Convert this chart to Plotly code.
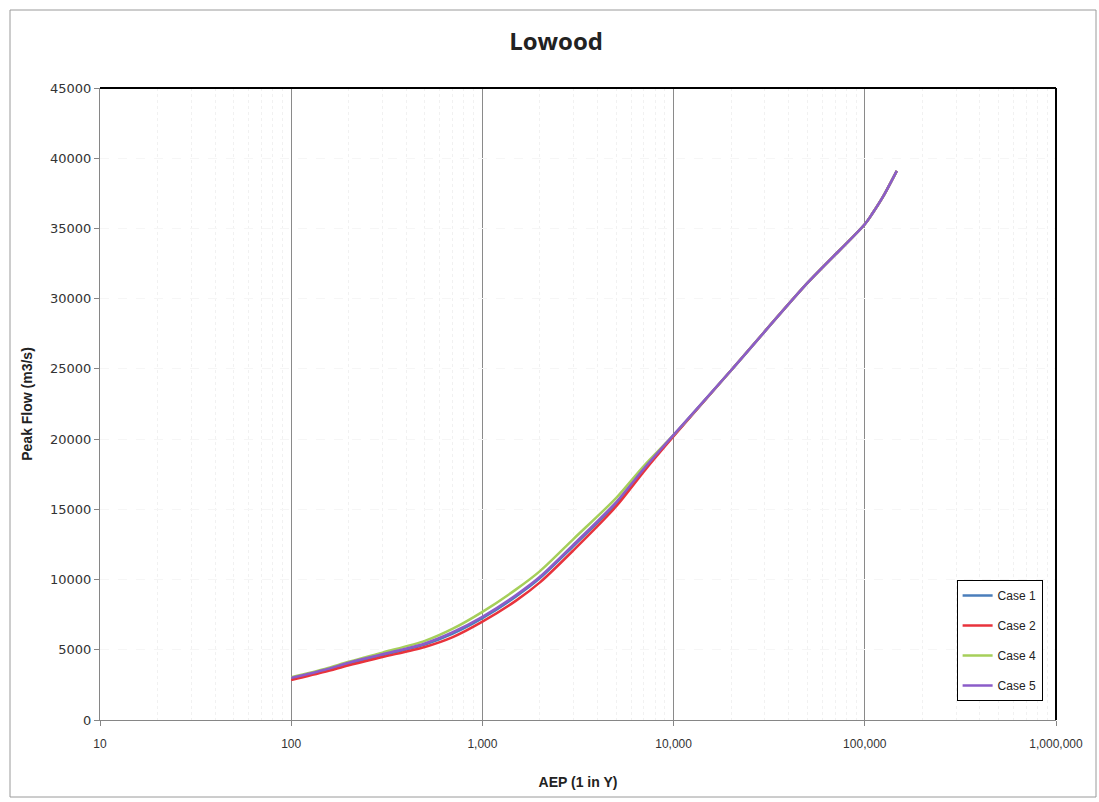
import plotly.graph_objects as go

# ---- data ----
aep = [100, 150, 200, 300, 500, 700, 1000, 1500, 2000, 3000, 5000, 7000,
       10000, 20000, 50000, 100000, 110000, 125000, 147000]

case1 = [2950, 3530, 4020, 4620, 5380, 6150, 7250, 8800, 10100, 12400, 15400, 17850,
         20250, 24900, 31100, 35300, 36100, 37300, 39100]
case2 = [2850, 3430, 3900, 4480, 5200, 5900, 7000, 8500, 9800, 12100, 15200, 17700,
         20200, 24900, 31100, 35300, 36100, 37300, 39100]
case4 = [3050, 3640, 4150, 4800, 5630, 6500, 7700, 9300, 10600, 12900, 15800, 18100,
         20300, 24900, 31100, 35300, 36100, 37300, 39100]
case5 = [3000, 3580, 4080, 4680, 5450, 6250, 7350, 8900, 10200, 12500, 15500, 17900,
         20300, 24900, 31100, 35300, 36100, 37300, 39100]

series_names = ["Case 1", "Case 2", "Case 4", "Case 5"]
series_vals = [case1, case2, case4, case5]
series_colors = ["#4A7EBB", "#E8333C", "#A6CF5A", "#8B5CC9"]

x_tickvals = [10, 100, 1000, 10000, 100000, 1000000]
x_ticktext = ["10", "100", "1,000", "10,000", "100,000", "1,000,000"]
y_tickvals = [0, 5000, 10000, 15000, 20000, 25000, 30000, 35000, 40000, 45000]
y_ticktext = ["0", "5000", "10000", "15000", "20000", "25000", "30000", "35000", "40000", "45000"]

fig = go.Figure()
for name, vals, col in zip(series_names, series_vals, series_colors):
    fig.add_trace(go.Scatter(
        x=aep, y=vals, name=name, mode="lines",
        line=dict(color=col, width=2.5, shape="spline", smoothing=0.8),
        legendgroup=name,
    ))

minor_vals = [m * 10 ** k for k in range(1, 6) for m in range(2, 10)]

fig.update_layout(
    width=1099, height=802,
    margin=dict(l=100, r=43, t=88, b=82),
    paper_bgcolor="white", plot_bgcolor="white",
    title=dict(text="<b>Lowood</b>", x=0.506, xref="container", xanchor="center",
               y=1 - 42 / 802, yanchor="middle",
               font=dict(family="Open Sans", size=24, color="#222")),
    showlegend=True,
    legend=dict(x=0.986, y=0.03, xanchor="right", yanchor="bottom",
                bgcolor="white", bordercolor="black", borderwidth=1,
                font=dict(family="Liberation Sans", size=12, color="#222"),
                tracegroupgap=11, itemwidth=30),
)

fig.update_xaxes(
    type="log", range=[1, 6],
    tickvals=x_tickvals, ticktext=x_ticktext,
    showgrid=True, gridcolor="#8a8a8a", gridwidth=1,
    minor=dict(tickvals=minor_vals, showgrid=True, gridcolor="#f1f1f1",
               griddash="dot", ticks=""),
    showline=True, linecolor="#868686", linewidth=1,
    ticks="outside", ticklen=5, tickcolor="#868686",
    ticklabelstandoff=8,
    tickfont=dict(family="Liberation Sans", size=12, color="#333"),
    title=dict(text="<b>AEP (1 in Y)</b>", standoff=26,
               font=dict(family="Liberation Sans", size=14, color="#222")),
    zeroline=False,
)
fig.update_yaxes(
    range=[0, 45000], tickvals=y_tickvals, ticktext=y_ticktext,
    showgrid=True, gridcolor="#f6f6f6", griddash="dash",
    showline=True, linecolor="#868686", linewidth=1,
    ticks="outside", ticklen=5, tickcolor="#868686",
    tickfont=dict(family="DejaVu Sans", size=13, color="#333"),
    title=dict(text="<b>Peak Flow (m3/s)</b>", standoff=14,
               font=dict(family="Liberation Sans", size=14, color="#222")),
    zeroline=False,
)

# plot-area top and right border (black), outer chart border (grey)
fig.add_shape(type="line", xref="paper", yref="paper", x0=0, x1=1, y0=1, y1=1,
              line=dict(color="black", width=2))
fig.add_shape(type="line", xref="paper", yref="paper", x0=1, x1=1, y0=0, y1=1,
              line=dict(color="black", width=2))
fig.add_shape(type="rect", xref="paper", yref="paper",
              x0=(10 - 100) / 956, x1=(1096 - 100) / 956,
              y0=(720 - 797) / 632, y1=(720 - 10) / 632,
              line=dict(color="#9a9a9a", width=1))

fig.write_html("out.html")
